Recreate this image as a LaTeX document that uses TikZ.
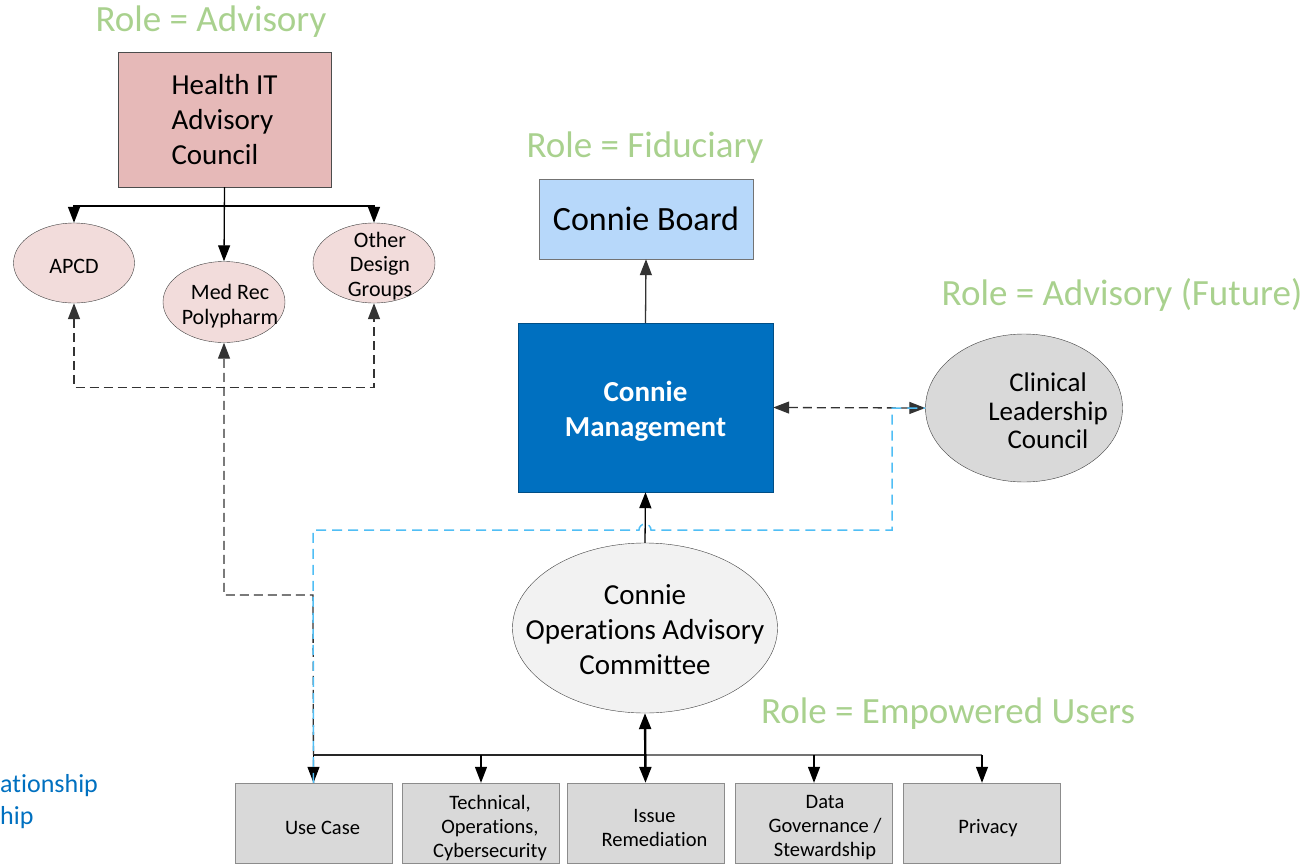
\documentclass[tikz,border=0pt]{standalone}
\usepackage{fontspec}
\setmainfont{Carlito}[Ligatures={NoCommon}]
\usetikzlibrary{shapes.geometric,arrows.meta}

\definecolor{rolegreen}{RGB}{169,209,142}
\definecolor{hitfill}{RGB}{230,185,184}
\definecolor{subfill}{RGB}{242,220,219}
\definecolor{boardfill}{RGB}{183,216,250}
\definecolor{mgmtblue}{RGB}{0,112,192}
\definecolor{cyanline}{RGB}{80,190,245}
\definecolor{greyfill}{RGB}{217,217,217}
\definecolor{opsfill}{RGB}{242,242,242}

\begin{document}
\begin{tikzpicture}[x=1pt,y=-1pt,
  role/.style={text=rolegreen,inner sep=0pt,font=\fontsize{37}{42}\selectfont},
  oval/.style={draw=black!75,ellipse,inner sep=0pt},
  subtext/.style={align=center,font=\fontsize{22}{24.5}\selectfont},
  workgroup/.style={draw=black!45,fill=greyfill,minimum width=157pt,minimum height=80pt,inner sep=0pt},
  grouptext/.style={align=center,xshift=9pt,yshift=-5pt,font=\fontsize{20.5}{24}\selectfont},
  tip/.style={-{Triangle[length=16pt,width=12pt]}},
  tips/.style={{Triangle[length=16pt,width=12pt]}-{Triangle[length=16pt,width=12pt]}},
  blackdash/.style={black!80,line width=1.3pt,dash pattern=on 9pt off 5pt},
  cyandash/.style={cyanline,line width=1.5pt,dash pattern=on 10pt off 6pt},
  busline/.style={line width=1.2pt}]
\useasboundingbox (0,0) rectangle (1310,865);

\node[role] (roleadv) at (211,22) {Role = Advisory};
\node[role] (rolefid) at (645,148) {Role = Fiduciary};
\node[role] (rolefut) at (1122,295) {Role = Advisory (Future)};
\node[role] (roleemp) at (948,714) {Role = Empowered Users};

\node[draw=black!70,fill=hitfill,minimum width=213pt,minimum height=135pt,align=left,font=\fontsize{29}{35}\selectfont] (hit) at (224.5,119.5) {Health IT\\Advisory\\Council};

\node[oval,fill=subfill,minimum width=121pt,minimum height=80pt,label={[subtext,yshift=-3pt]center:APCD}] (apcd) at (74,263) {};
\node[oval,fill=subfill,minimum width=122pt,minimum height=81pt,label={[subtext,xshift=6pt,yshift=-4pt]center:Med Rec\\Polypharm}] (medrec) at (224,302) {};
\node[oval,fill=subfill,minimum width=122pt,minimum height=80pt,label={[subtext,xshift=6pt,yshift=-3pt]center:Other\\Design\\Groups}] (other) at (374,263) {};

\node[draw=black!55,fill=boardfill,minimum width=214pt,minimum height=80pt,font=\fontsize{34}{38}\selectfont] (board) at (646,219) {Connie Board};
\node[draw=mgmtblue!70!black,fill=mgmtblue,minimum width=255pt,minimum height=169pt,label={[text=white,align=center,yshift=-4pt,font=\bfseries\fontsize{29}{35}\selectfont]center:Connie\\Management}] (mgmt) at (645.5,407.5) {};
\node[oval,fill=greyfill,minimum width=197pt,minimum height=148pt,label={[align=center,xshift=24pt,yshift=-3pt,font=\fontsize{27}{28.5}\selectfont]center:Clinical\\Leadership\\Council}] (clc) at (1024,408) {};
\node[oval,fill=opsfill,minimum width=265pt,minimum height=170pt,label={[align=center,yshift=-2pt,font=\fontsize{29}{35}\selectfont]center:Connie\\Operations Advisory\\Committee}] (ops) at (645,628) {};

\node[workgroup,label={[grouptext]center:Use Case}] (usecase) at (313.5,823) {};
\node[workgroup,label={[grouptext]center:Technical,\\Operations,\\Cybersecurity}] (tech) at (481,823) {};
\node[workgroup,label={[grouptext]center:Issue\\Remediation}] (issue) at (645.5,823) {};
\node[workgroup,label={[grouptext,xshift=2pt]center:Data\\Governance /\\Stewardship}] (datagov) at (814,823) {};
\node[workgroup,label={[grouptext,xshift=-3pt]center:Privacy}] (privacy) at (982,823) {};

\node[anchor=west,inner sep=0pt,text=mgmtblue,font=\fontsize{26}{30}\selectfont] (legrel) at (0,786) {ationship};
\node[anchor=west,inner sep=0pt,text=mgmtblue,font=\fontsize{26}{30}\selectfont] (legship) at (0,818) {hip};

\coordinate (hitbus) at (224,206);
\coordinate (bus) at (645,755);

\draw[tip,line width=1.3pt] (hit.south) -- (medrec.north);
\draw[tip,line width=1.3pt] (hitbus) -| (apcd.north);
\draw[tip,line width=1.3pt] (hitbus) -| (other.north);
\draw[blackdash,tips] (apcd.south) -- ++(0,84) -| (other.south);
\draw[blackdash,tip] (usecase.north) -- (313,595) -| (medrec.south);

\draw[tip,line width=1.3pt,black!80] (mgmt.north) -- (board.south);
\draw[tip,line width=1.3pt] (ops.north) -- (mgmt.south);
\draw[blackdash,tips] (mgmt.east) -- (clc.west);

\draw[busline,black!85] (usecase.north |- bus) -- (bus);
\draw[busline,black!55] (bus) -- (privacy.north |- bus);
\foreach \grp in {usecase,tech,datagov,privacy}
  \draw[busline,tip] (\grp.north |- bus) -- (\grp.north);
\draw[tips,line width=2.4pt] (ops.south) -- (issue.north);

\draw[cyandash] (usecase.north) -- (313,530) -- (639,530) arc[start angle=180,end angle=360,radius=6] -- (892,530) -- (892,408) -- (clc.west);
\end{tikzpicture}
\end{document}
